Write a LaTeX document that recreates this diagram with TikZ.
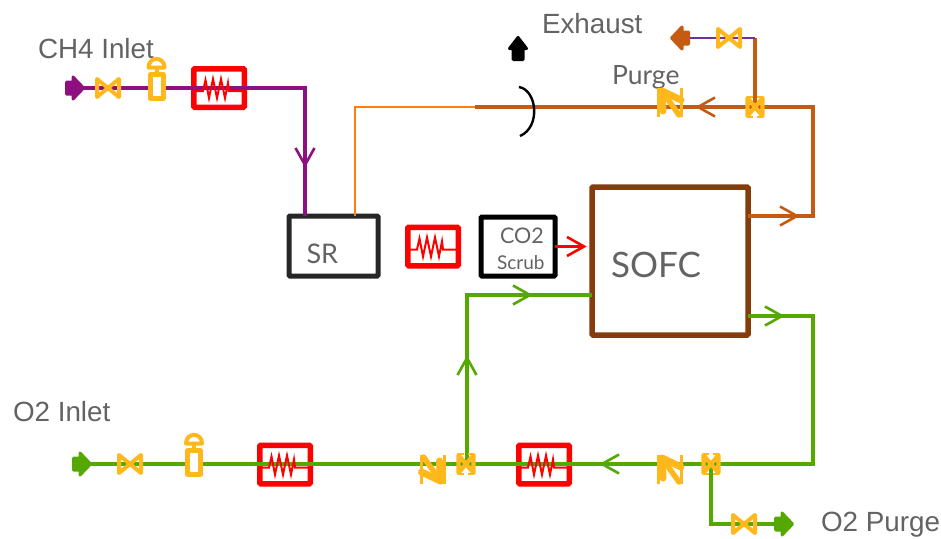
\documentclass[tikz,border=0pt]{standalone}
\usepackage{fontspec}
\setmainfont{Liberation Sans}
\newfontfamily\latofont{Lato}
\definecolor{cpurple}{HTML}{8E0F80}
\definecolor{cviolet}{HTML}{7030A0}
\definecolor{cbrown}{HTML}{C55A11}
\definecolor{clorange}{HTML}{FF7F0E}
\definecolor{cgreen}{HTML}{54A800}
\definecolor{camber}{HTML}{FFB81C}
\definecolor{cdark}{HTML}{843C0C}
\definecolor{ctext}{HTML}{636363}
\tikzset{
  lbl/.style={anchor=base west,inner sep=0pt,outer sep=0pt,text=ctext,font=\fontsize{27.8}{28}\selectfont},
  lato/.style={anchor=base west,inner sep=0pt,outer sep=0pt,text=ctext,font=\latofont\fontsize{#1}{#1}\selectfont},
  heaterbox/.style={draw=red,line width=5.5pt,rounded corners=1pt,minimum width=50.5pt,minimum height=38.5pt,inner sep=0pt,outer sep=0pt},
  unitbox/.style={inner sep=0pt,outer sep=0pt,rounded corners=1pt},
  pipe/.style={line width=3.2pt,line join=miter},
  thinpipe/.style={line width=2.9pt,line join=miter},
  pics/valve/.style={code={
    \draw[camber,line width=4pt,line join=round] (-11,-9)--(11,9)--(11,-9)--(-11,9)--cycle;}},
  pics/jvalve/.style={code={
    \draw[camber,line width=4.2pt,line join=round] (-7.5,-9)--(7.5,9)--(7.5,-9)--(-7.5,9)--cycle;
    \draw[camber,line width=1.6pt] (-7.5,-10)--(-2,-10) (2,-10)--(7.5,-10) (-7.5,10)--(-2,10) (2,10)--(7.5,10);}},
  pics/regulator/.style={code={
    \draw[camber,line width=5pt,line join=round,fill=white] (-6.5,-13.5)rectangle(6.5,10);
    \draw[camber,line width=4pt] (0,-20)--(0,-15);
    \draw[camber,line width=4pt,line join=round,fill=white] (-8,-20.5) .. controls (-8,-32) and (8,-32) .. (8,-20.5)--cycle;}},
  pics/zig/.style={code={
    \draw[red,line width=2pt,line join=miter] (-25,3)--(-16,3)--(-13.5,-8)--(-10,10)--(-6,-9)--(-2,10)--(2,-9)--(6,10)--(9,-5)--(10,3)--(25,3);}},
  pics/port/.style={code={
    \fill[#1,draw=#1,line width=3pt,line join=round] (-8.5,-6)--(-2,-6)--(-2,-11)--(8.5,0)--(-2,11)--(-2,6)--(-8.5,6)--cycle;}},
  pics/portlong/.style={code={
    \fill[#1,draw=#1,line width=3pt,line join=round] (-11,-5)--(0,-5)--(0,-8.5)--(11,0)--(0,8.5)--(0,5)--(-11,5)--cycle;}},
  pics/chev/.style={code={
    \draw[#1,line width=2.6pt,line join=miter] (-17,-9.5)--(0,0)--(-17,9.5);}},
  pics/checkv/.style={code={
    \draw[camber,line width=3pt] (-12,-15)--(-12,14) (11,-15)--(11,14);
    \draw[camber,line width=7pt,line cap=round] (-8,-12)--(11,-3) (-8,-12)--(-7,8);
    \draw[camber,line width=5.5pt,line cap=round] (-8,-12)--(9,12);}}
}
\begin{document}
\begin{tikzpicture}[x=1pt,y=-1pt]
\useasboundingbox (0,0) rectangle (941,538);
% heaters (below the pipes)
\node[heaterbox] (h1) at (219,88) {};
\node[heaterbox] (h2) at (433,246.5) {};
\node[heaterbox] (h3) at (285,464.5) {};
\node[heaterbox] (h4) at (544,464.5) {};
% units
\node[unitbox,draw=black!85,line width=5pt,minimum width=89pt,minimum height=60pt] (sr) at (333.5,246) {};
\node[unitbox,draw=black,line width=5pt,minimum width=74pt,minimum height=59pt] (co2) at (518,246.5) {};
\node[unitbox,draw=cdark,line width=5.5pt,minimum width=156pt,minimum height=148pt] (sofc) at (670,261) {};
% labels
\node[lbl] (tch4) at (38,58) {CH4 Inlet};
\node[lbl] (texh) at (542,33) {Exhaust};
\node[lbl] (to2in) at (13,421) {O2 Inlet};
\node[lbl] (to2pu) at (821,531) {O2 Purge};
\node[lato=26.5] (tpurge) at (612,84) {Purge};
\node[lato=27] (tsr) at (306.5,263) {SR};
\node[lato=21.5] (tco2) at (500,243) {CO2};
\node[lato=19] (tscrub) at (497,269) {Scrub};
\node[lato=35] (tsofc) at (611,277) {SOFC};
% key points
\coordinate (p1) at (66,88);
\coordinate (p2) at (305,88);
\coordinate (o1) at (355,107);
\coordinate (o2) at (475,107);
\coordinate (o3) at (813,107);
\coordinate (o4) at (813,216);
\coordinate (o5) at (755,107);
\coordinate (o6) at (755,38);
\coordinate (o7) at (685,38);
\coordinate (g1) at (467,295);
\coordinate (g2) at (467,464);
\coordinate (g3) at (82,464);
\coordinate (g4) at (813,464);
\coordinate (g5) at (813,316);
\coordinate (g6) at (711,464);
\coordinate (g7) at (711,524);
\coordinate (g8) at (785,524);
\coordinate (r1) at (584,246.5);
% pipes
\draw[pipe,cpurple] (p1) -- (p2) -- (p2 |- sr.north);
\draw[thinpipe,clorange] (o1 |- sr.north) -- (o1) -- (o2);
\draw[pipe,cbrown] (o2) -- (o3) -- (o4) -- (o4 -| sofc.east);
\draw[pipe,cbrown] (o5) -- (o6);
\draw[thinpipe,cviolet] (o6) -- (o7);
\draw[pipe,cgreen] (g1 -| sofc.west) -- (g1) -- (g2);
\draw[pipe,cgreen] (g3) -- (g4) -- (g5) -- (g5 -| sofc.east);
\draw[pipe,cgreen] (g6) -- (g7) -- (g8);
\draw[red,line width=2.9pt] (co2.east) -- (r1);
% exhaust arc
\draw[black,line width=2.4pt] (519,87) .. controls (537,90) and (541,127) .. (520,136);
% heater coils
\pic at (h1) {zig};
\pic at (h2) {zig};
\pic at (h3) {zig};
\pic at (h4) {zig};
% valves
\pic at (108,88) {valve};
\pic at (729,38) {valve};
\pic at (130,464) {valve};
\pic at (744,524) {valve};
\pic at (o5) {jvalve};
\pic at (466,464) {jvalve};
\pic at (g6) {jvalve};
\pic at (156.5,88) {regulator};
\pic at (194,464) {regulator};
\pic at (670,103) {checkv};
\pic at (670,470) {checkv};
\pic[rotate=180] at (432.5,469) {checkv};
% ports
\pic at (75,88) {port=cpurple};
\pic at (82,464) {port=cgreen};
\pic at (784,524) {port=cgreen};
\pic[rotate=180] at (680,38) {port=cbrown};
\pic[rotate=90] at (518,48.5) {portlong=black};
% flow chevrons
\pic[rotate=-90] at (305,165) {chev=cpurple};
\pic[rotate=180] at (698,107) {chev=cbrown};
\pic at (797,216) {chev=cbrown};
\pic at (r1) {chev=red};
\pic at (530,295) {chev=cgreen};
\pic[rotate=90] at (467,358) {chev=cgreen};
\pic at (782,316) {chev=cgreen};
\pic[rotate=180] at (602,464) {chev=cgreen};
\end{tikzpicture}
\end{document}
